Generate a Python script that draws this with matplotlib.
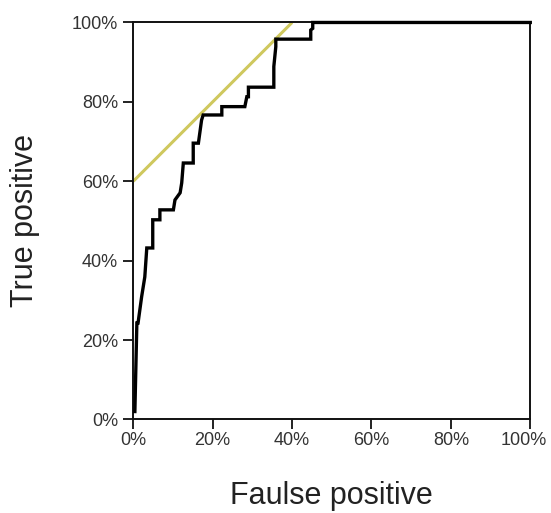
import matplotlib
matplotlib.use('Agg')
import matplotlib.pyplot as plt
import matplotlib.transforms as mtransforms
from matplotlib.ticker import FuncFormatter

plt.rcParams['font.family'] = ['Liberation Sans', 'DejaVu Sans']

# ROC curve (fractions)
fpr = [0.004, 0.009, 0.012, 0.021, 0.029, 0.034, 0.049, 0.049, 0.067, 0.067,
       0.101, 0.105, 0.118, 0.122, 0.126, 0.151, 0.151, 0.164, 0.172, 0.176,
       0.223, 0.223, 0.281, 0.286, 0.290, 0.290, 0.354, 0.354, 0.359, 0.359,
       0.447, 0.447, 0.452, 0.452, 1.0]
tpr = [0.020, 0.243, 0.243, 0.309, 0.359, 0.432, 0.432, 0.503, 0.503, 0.528,
       0.528, 0.553, 0.571, 0.596, 0.646, 0.646, 0.696, 0.696, 0.754, 0.767,
       0.767, 0.788, 0.788, 0.813, 0.813, 0.837, 0.837, 0.889, 0.939, 0.958,
       0.958, 0.981, 0.985, 1.0, 1.0]

# reference line
ref_x = [0.0, 0.4]
ref_y = [0.6, 1.0]

ticks = [0, 0.2, 0.4, 0.6, 0.8, 1.0]

fig = plt.figure(figsize=(5.51, 5.13), dpi=100)
ax = fig.add_axes([0.2419, 0.1823, 0.7205, 0.7739])

ax.plot(ref_x, ref_y, color='#cfc85e', lw=2.2, solid_capstyle='butt', zorder=2)
ax.plot(fpr, tpr, color='black', lw=2.4, solid_joinstyle='miter', zorder=3,
        clip_on=False)

ax.set_xlim(0, 1)
ax.set_ylim(0, 1)
ax.set_xticks(ticks)
ax.set_yticks(ticks)
pct = FuncFormatter(lambda v, p: '{:d}%'.format(int(round(v * 100))))
ax.xaxis.set_major_formatter(pct)
ax.yaxis.set_major_formatter(pct)

for s in ax.spines.values():
    s.set_linewidth(1.4)
    s.set_color('#111111')

ax.tick_params(axis='x', direction='out', length=7, width=1.3, pad=2,
               labelsize=13, colors='#111111', labelcolor='#333333')
ax.tick_params(axis='y', direction='out', length=7, width=1.3, pad=4,
               labelsize=13, colors='#111111', labelcolor='#333333')

# last x label sits a bit to the left so it fits the figure
last = ax.get_xticklabels()[-1]
last.set_transform(last.get_transform() +
                   mtransforms.ScaledTranslation(-7 / 100, 0, fig.dpi_scale_trans))

ax.set_xlabel('Faulse positive', fontsize=22, color='#222222')
ax.set_ylabel('True positive', fontsize=22, color='#222222')
ax.xaxis.set_label_coords(0.5, -0.155)
ax.yaxis.set_label_coords(-0.235, 0.5)

fig.savefig('out.png', dpi=100)
